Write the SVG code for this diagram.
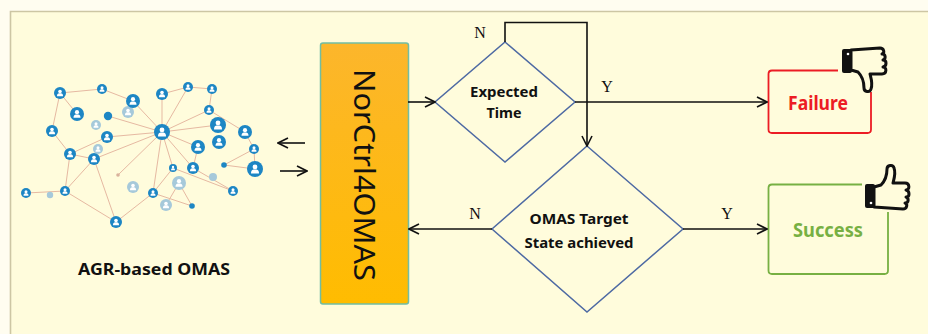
<svg xmlns="http://www.w3.org/2000/svg" xmlns:xlink="http://www.w3.org/1999/xlink" width="928" height="334" viewBox="0 0 928 334">
  <defs>
    <style>
      .lbl { font-family: "Noto Sans", "Liberation Sans", sans-serif; font-weight: bold; fill: #111; }
      .yn { font-family: "Liberation Serif", "DejaVu Serif", serif; font-size: 16px; fill: #111; }
      .conn { fill: none; stroke: #111; stroke-width: 1.6; }
      .dia { fill: none; stroke: #4e6aa3; stroke-width: 1.5; }
      .edge { stroke: #e6b9a2; stroke-width: 1; }
      .n { fill: #1d86c4; }
      .f { fill: #a6c9da; }
      .thumb { fill: #fffcdc; stroke: #111; stroke-width: 3; stroke-linejoin: round; }
    </style>
    <marker id="arr" viewBox="0 0 12 12" refX="11" refY="6" markerWidth="12" markerHeight="12" markerUnits="userSpaceOnUse" orient="auto">
      <path d="M1,1 L11,6 L1,11" fill="none" stroke="#111" stroke-width="1.6"/>
    </marker>
    <linearGradient id="gold" x1="0" y1="0" x2="0" y2="1">
      <stop offset="0" stop-color="#fcb62c"/>
      <stop offset="1" stop-color="#ffbc00"/>
    </linearGradient>
    <!-- person badge used for the network nodes -->
    <symbol id="person" viewBox="-10 -10 20 20">
      <circle r="10"/>
      <circle cy="-2.6" r="3" fill="#fff"/>
      <path d="M-5,5.5 C-5,1 -2.5,0.6 0,0.6 C2.5,0.6 5,1 5,5.5 Z" fill="#fff"/>
    </symbol>
    <!-- thumbs-up glyph, 48x48 box -->
    <g id="thumb">
      <path class="thumb" d="M11,24 L18,22 C22,18 24,12 24,6 C24,2 30,1 31,5 C33,10 31,16 30,20 L42,20 C47,20 47,27 43,27 C47,28 47,34 43,34 C46,35 46,40 42,40 C45,41 44,46 40,46 L11,44 Z"/>
      <rect x="2" y="21" width="10" height="24" rx="2" fill="#111"/>
      <circle cx="8" cy="40" r="1.3" fill="#fff"/>
    </g>
  </defs>

  <!-- page -->
  <rect width="928" height="334" fill="#fffdf0"/>
  <rect x="10" y="11" width="918" height="323" fill="#fffcdc"/>
  <path d="M10.5,334 L10.5,11.5 L928,11.5" fill="none" stroke="#cdc6a4" stroke-width="1.6"/>

  <!-- agent network -->
  <g id="network">
    <g class="edge">
      <line x1="60" y1="93" x2="102" y2="89"/>
      <line x1="102" y1="89" x2="133" y2="101"/>
      <line x1="60" y1="93" x2="77" y2="114"/>
      <line x1="60" y1="93" x2="52" y2="131"/>
      <line x1="52" y1="131" x2="70" y2="154"/>
      <line x1="133" y1="101" x2="162" y2="132"/>
      <line x1="162" y1="94" x2="162" y2="132"/>
      <line x1="162" y1="94" x2="188" y2="87"/>
      <line x1="188" y1="87" x2="162" y2="132"/>
      <line x1="188" y1="87" x2="212" y2="89"/>
      <line x1="212" y1="89" x2="209" y2="110"/>
      <line x1="209" y1="110" x2="162" y2="132"/>
      <line x1="209" y1="110" x2="245" y2="132"/>
      <line x1="218" y1="125" x2="162" y2="132"/>
      <line x1="245" y1="132" x2="254" y2="149"/>
      <line x1="254" y1="149" x2="224" y2="165"/>
      <line x1="254" y1="149" x2="255" y2="169"/>
      <line x1="162" y1="132" x2="108" y2="116"/>
      <line x1="162" y1="132" x2="107" y2="137"/>
      <line x1="162" y1="132" x2="94" y2="159"/>
      <line x1="162" y1="132" x2="118" y2="175"/>
      <line x1="162" y1="132" x2="173" y2="168"/>
      <line x1="162" y1="132" x2="198" y2="147"/>
      <line x1="162" y1="132" x2="193" y2="168"/>
      <line x1="162" y1="132" x2="153" y2="193"/>
      <line x1="107" y1="137" x2="70" y2="154"/>
      <line x1="70" y1="154" x2="94" y2="159"/>
      <line x1="70" y1="154" x2="65" y2="191"/>
      <line x1="94" y1="159" x2="65" y2="191"/>
      <line x1="26" y1="193" x2="65" y2="191"/>
      <line x1="94" y1="159" x2="116" y2="222"/>
      <line x1="65" y1="191" x2="116" y2="222"/>
      <line x1="153" y1="193" x2="116" y2="222"/>
      <line x1="153" y1="193" x2="173" y2="168"/>
      <line x1="173" y1="168" x2="233" y2="191"/>
      <line x1="193" y1="168" x2="233" y2="191"/>
      <line x1="198" y1="147" x2="193" y2="168"/>
      <line x1="179" y1="183" x2="192" y2="206"/>
      <line x1="153" y1="193" x2="192" y2="206"/>
      <line x1="179" y1="183" x2="166" y2="205"/>
      <line x1="224" y1="165" x2="255" y2="169"/>
    </g>
    <!-- dim agents -->
    <use xlink:href="#person" class="f" x="122" y="106" width="12" height="12"/>
    <use xlink:href="#person" class="f" x="91" y="120" width="10" height="10"/>
    <use xlink:href="#person" class="f" x="93" y="144" width="10" height="10"/>
    <circle cx="50" cy="195" r="3.2" class="f"/>
    <use xlink:href="#person" class="f" x="127" y="181" width="12" height="12"/>
    <use xlink:href="#person" class="f" x="172" y="176" width="14" height="14"/>
    <circle cx="213" cy="177" r="4" class="f"/>
    <use xlink:href="#person" class="f" x="160" y="199" width="12" height="12"/>
    <circle cx="118" cy="175" r="1.8" fill="#d9b29c"/>
    <!-- active agents -->
    <use xlink:href="#person" class="n" x="54" y="87" width="12" height="12"/>
    <use xlink:href="#person" class="n" x="97" y="84" width="10" height="10"/>
    <use xlink:href="#person" class="n" x="126" y="94" width="14" height="14"/>
    <use xlink:href="#person" class="n" x="156" y="88" width="12" height="12"/>
    <use xlink:href="#person" class="n" x="183" y="82" width="10" height="10"/>
    <use xlink:href="#person" class="n" x="207" y="84" width="10" height="10"/>
    <use xlink:href="#person" class="n" x="70" y="107" width="14" height="14"/>
    <circle cx="108" cy="116" r="4.2" class="n"/>
    <use xlink:href="#person" class="n" x="46" y="125" width="12" height="12"/>
    <use xlink:href="#person" class="n" x="101" y="131" width="12" height="12"/>
    <use xlink:href="#person" class="n" x="154" y="124" width="16" height="16"/>
    <use xlink:href="#person" class="n" x="204" y="105" width="10" height="10"/>
    <use xlink:href="#person" class="n" x="210" y="117" width="16" height="16"/>
    <use xlink:href="#person" class="n" x="238" y="125" width="14" height="14"/>
    <use xlink:href="#person" class="n" x="64" y="148" width="12" height="12"/>
    <use xlink:href="#person" class="n" x="88" y="153" width="12" height="12"/>
    <use xlink:href="#person" class="n" x="191" y="140" width="14" height="14"/>
    <use xlink:href="#person" class="n" x="212" y="135" width="14" height="14"/>
    <use xlink:href="#person" class="n" x="249" y="144" width="10" height="10"/>
    <use xlink:href="#person" class="n" x="169" y="164" width="8" height="8"/>
    <use xlink:href="#person" class="n" x="187" y="162" width="12" height="12"/>
    <circle cx="224" cy="165" r="2.8" class="n"/>
    <use xlink:href="#person" class="n" x="247" y="161" width="16" height="16"/>
    <use xlink:href="#person" class="n" x="21" y="188" width="10" height="10"/>
    <use xlink:href="#person" class="n" x="60" y="186" width="10" height="10"/>
    <use xlink:href="#person" class="n" x="148" y="188" width="10" height="10"/>
    <circle cx="192" cy="206" r="2.8" class="n"/>
    <use xlink:href="#person" class="n" x="228" y="186" width="10" height="10"/>
    <use xlink:href="#person" class="n" x="110" y="216" width="12" height="12"/>
  </g>

  <!-- caption under the network -->
  <text class="lbl" x="154" y="275" font-size="16" text-anchor="middle" textLength="152" lengthAdjust="spacingAndGlyphs">AGR-based OMAS</text>

  <!-- controller -->
  <g id="controller">
    <rect x="320.5" y="43" width="88" height="261" rx="2.5" fill="url(#gold)" stroke="#72bda2" stroke-width="1.5"/>
    <text transform="translate(354,175) rotate(90)" font-family="Noto Sans, Liberation Sans, sans-serif" font-size="29" fill="#111" text-anchor="middle" textLength="212" lengthAdjust="spacingAndGlyphs">NorCtrl4OMAS</text>
  </g>

  <!-- decision: expected time -->
  <g id="expected-time">
    <polygon class="dia" points="505,42 575,102 505,162 435,102"/>
    <text class="lbl" x="504" y="97" font-size="15" text-anchor="middle" textLength="68" lengthAdjust="spacingAndGlyphs">Expected</text>
    <text class="lbl" x="504" y="118" font-size="15" text-anchor="middle" textLength="35" lengthAdjust="spacingAndGlyphs">Time</text>
  </g>

  <!-- decision: target state -->
  <g id="target-state">
    <polygon class="dia" points="587,146 683,229 587,312 492,229"/>
    <text class="lbl" x="579" y="224" font-size="15" text-anchor="middle" textLength="99" lengthAdjust="spacingAndGlyphs">OMAS Target</text>
    <text class="lbl" x="579" y="248" font-size="15" text-anchor="middle" textLength="109" lengthAdjust="spacingAndGlyphs">State achieved</text>
  </g>

  <!-- outcome: failure -->
  <g id="failure">
    <path d="M838,70.5 L772,70.5 Q768.5,70.5 768.5,74 L768.5,129.5 Q768.5,133 772,133 L867.5,133 Q871,133 871,129.5 L871,92" fill="none" stroke="#ec1c24" stroke-width="1.8"/>
    <text x="818" y="110" font-family="Noto Sans, Liberation Sans, sans-serif" font-weight="bold" font-size="20" fill="#ec1c24" text-anchor="middle" textLength="60" lengthAdjust="spacingAndGlyphs">Failure</text>
    <use xlink:href="#thumb" transform="translate(840,94) scale(1,-1)"/>
  </g>

  <!-- outcome: success -->
  <g id="success">
    <path d="M862,184.5 L772,184.5 Q768.5,184.5 768.5,188 L768.5,270.5 Q768.5,274 772,274 L884.5,274 Q888,274 888,270.5 L888,212" fill="none" stroke="#77b043" stroke-width="1.8"/>
    <text x="828" y="237" font-family="Noto Sans, Liberation Sans, sans-serif" font-weight="bold" font-size="20" fill="#77b043" text-anchor="middle" textLength="70" lengthAdjust="spacingAndGlyphs">Success</text>
    <use xlink:href="#thumb" transform="translate(863,163)"/>
  </g>

  <!-- connectors -->
  <g id="connectors">
    <line class="conn" x1="305" y1="143" x2="278" y2="143" marker-end="url(#arr)"/>
    <line class="conn" x1="280" y1="171" x2="307" y2="171" marker-end="url(#arr)"/>
    <line class="conn" x1="408" y1="102" x2="435" y2="102" marker-end="url(#arr)"/>
    <polyline class="conn" points="505,42 505,22.5 587,22.5 587,146" marker-end="url(#arr)"/>
    <line class="conn" x1="575" y1="102" x2="767" y2="102" marker-end="url(#arr)"/>
    <line class="conn" x1="492" y1="229" x2="409" y2="229" marker-end="url(#arr)"/>
    <line class="conn" x1="683" y1="229" x2="767" y2="229" marker-end="url(#arr)"/>
    <text class="yn" x="480" y="38" text-anchor="middle">N</text>
    <text class="yn" x="607" y="92" text-anchor="middle">Y</text>
    <text class="yn" x="475" y="219" text-anchor="middle">N</text>
    <text class="yn" x="727" y="219" text-anchor="middle">Y</text>
  </g>
</svg>
